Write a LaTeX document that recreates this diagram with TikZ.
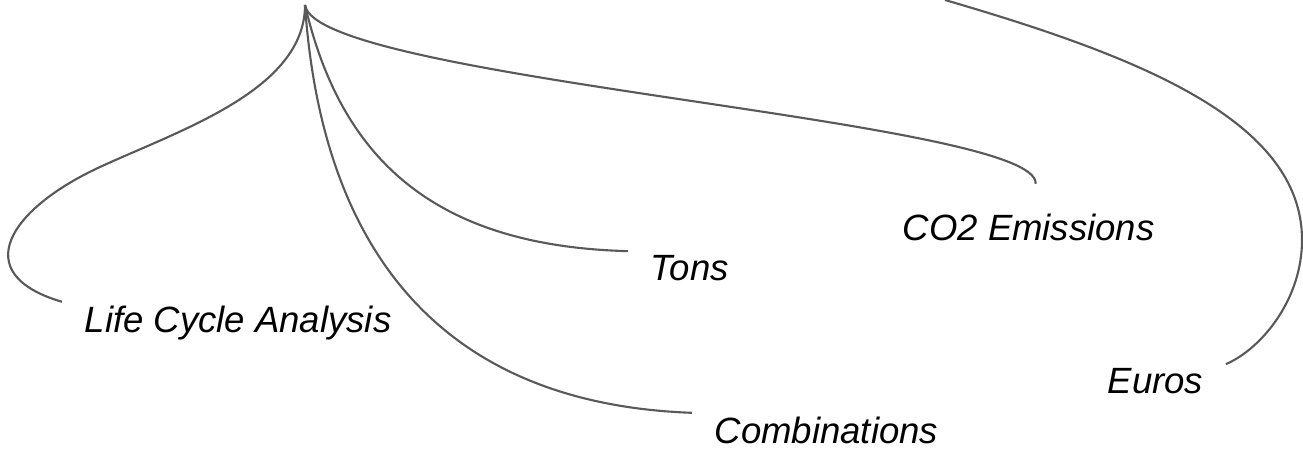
\documentclass[tikz,border=0pt]{standalone}
\usepackage{fontspec}
\setmainfont{Liberation Sans}
\usepackage{tikz}
\tikzset{
	lbl/.style={font=\fontsize{10.4}{12}\selectfont\itshape, inner xsep=0.22cm, inner ysep=0.03cm, anchor=base west},
	link/.style={draw=black!65, line width=0.6pt}
}
\begin{document}
\begin{tikzpicture}
	\useasboundingbox (0,0) rectangle (13.03,4.53);
	\coordinate (root) at (3.05,4.48);
	\coordinate (src) at (9.45,4.53);
	\node[lbl] (lca) at (0.62,1.21) {Life Cycle Analysis};
	\node[lbl] (tons) at (6.28,1.73) {Tons};
	\node[lbl] (comb) at (6.92,0.10) {Combinations};
	\node[lbl] (co2) at (8.80,2.13) {CO2 Emissions};
	\node[lbl] (euros) at (10.85,0.60) {Euros};
	\draw[link] (root) .. controls (3.05,3.63) and (1.80,3.23) .. (1.00,2.86) .. controls (0.09,2.44) and (-0.33,1.79) .. (lca.north west);
	\draw[link] (root) .. controls (3.40,2.98) and (4.30,2.07) .. (tons.north west);
	\draw[link] (root) .. controls (3.22,1.98) and (4.45,0.49) .. (comb.north west);
	\draw[link] (root) .. controls (3.15,3.73) and (10.40,3.33) .. ([shift={(0.07,0.26)}]co2.north);
	\draw[link] (src) .. controls (11.37,3.97) and (13.02,3.33) .. (13.02,2.13) .. controls (13.02,1.53) and (12.61,1.04) .. (euros.north east);
\end{tikzpicture}
\end{document}
